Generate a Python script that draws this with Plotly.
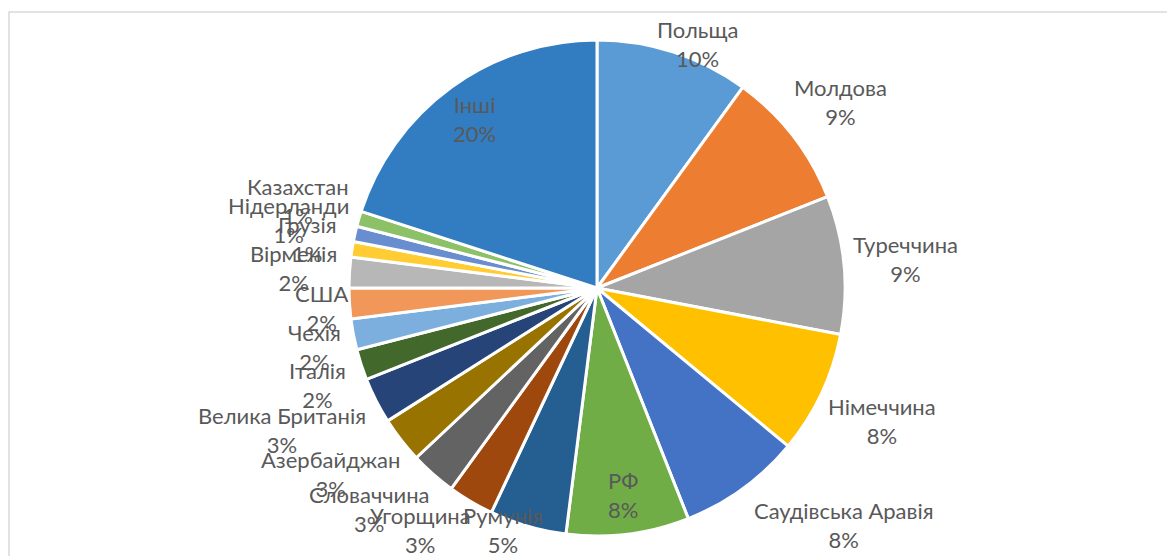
import math
import plotly.graph_objects as go

countries = ["Польща", "Молдова", "Туреччина", "Німеччина", "Саудівська Аравія", "РФ",
             "Румунія", "Угорщина", "Словаччина", "Азербайджан", "Велика Британія",
             "Італія", "Чехія", "США", "Вірменія", "Грузія", "Нідерланди", "Казахстан", "Інші"]
shares = [10, 9, 9, 8, 8, 8, 5, 3, 3, 3, 3, 2, 2, 2, 2, 1, 1, 1, 20]
colors = ["#5B9BD5", "#ED7D31", "#A5A5A5", "#FFC000", "#4472C4", "#70AD47",
          "#255E91", "#9E480E", "#636363", "#997300", "#264478", "#43682B",
          "#7CAFDD", "#F1975A", "#B7B7B7", "#FFCD33", "#698ED0", "#8CC168", "#327DC2"]
inside = {"РФ", "Інші"}

W, H = 1175, 556
OFF = 8  # page body margin
cx, cy, r = 597, 288, 248
FONT = "Lato, Carlito, Calibri, sans-serif"
TXT = "#595959"


def px_x(x):
    return (x - OFF) / W


def px_y(y):
    return 1 - (y - OFF) / H


fig = go.Figure(go.Pie(
    labels=countries, values=shares, sort=False, direction="clockwise", rotation=0,
    marker=dict(colors=colors, line=dict(color="white", width=3)),
    textinfo="none", automargin=False,
    showlegend=False, hoverinfo="label+percent",
    domain=dict(x=[px_x(cx - r), px_x(cx + r)], y=[px_y(cy + r), px_y(cy - r)]),
))


def clamp(v, lo, hi):
    return max(lo, min(hi, v))


# data labels placed around the mid-angle of each slice
total = sum(shares)
cum = 0.0
box_h = 54
for name, v in zip(countries, shares):
    mid = (cum + v / 2) / total * 2 * math.pi
    cum += v
    s, c = math.sin(mid), math.cos(mid)
    pct = f"{round(v / total * 100)}%"
    if name in inside:
        d = 0.84 * r
        lx, ly = cx + d * s, cy - d * c
    else:
        d = r + 11
        bx, by = cx + d * s, cy - d * c
        w = 11.2 * max(len(name), len(pct))
        gx = clamp(s / 0.5, -1, 1)
        gy = clamp(c / 0.5, -1, 1)
        lx = bx + (w / 2) * gx
        ly = by - (box_h / 2) * gy
        ly = clamp(ly, 17 + box_h / 2, 557 - box_h / 2)
    fig.add_annotation(x=px_x(lx), y=px_y(ly), xref="paper", yref="paper",
                       text=f"{name}<br>{pct}", showarrow=False,
                       xanchor="center", yanchor="middle", align="center",
                       font=dict(family=FONT, size=22, color=TXT))

fig.add_shape(type="rect", xref="paper", yref="paper",
              x0=px_x(9), x1=1.02, y0=-0.03, y1=px_y(12),
              line=dict(color="#D9D9D9", width=1.5), fillcolor="rgba(0,0,0,0)", layer="below")

fig.update_layout(width=W, height=H, margin=dict(l=0, r=0, t=0, b=0, autoexpand=False),
                  paper_bgcolor="white", plot_bgcolor="white")
fig.write_html("out.html")
